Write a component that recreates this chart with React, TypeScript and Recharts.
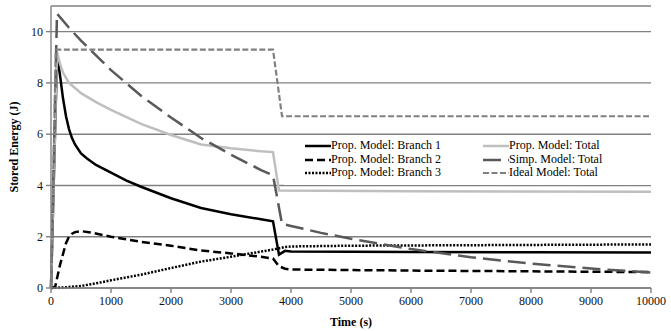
import { CartesianGrid, Legend, Line, LineChart, XAxis, YAxis } from 'recharts';

// time (s) and stored energy (J)
const branch1Time = [0, 100, 125, 150, 200, 250, 300, 350, 400, 500, 600, 750, 1000, 1250, 1500, 2000, 2500, 3000, 3500, 3700, 3800, 3900, 4000, 6000, 8000, 10000];
const branch1Energy = [0, 9.0, 8.7, 8.3, 7.4, 6.7, 6.2, 5.85, 5.6, 5.25, 5.05, 4.8, 4.5, 4.2, 3.95, 3.5, 3.12, 2.88, 2.68, 2.6, 1.3, 1.45, 1.42, 1.4, 1.39, 1.38];

const branch2Time = [0, 70, 150, 250, 300, 350, 400, 500, 700, 1000, 1500, 2000, 2500, 3000, 3500, 3700, 3800, 3900, 4000, 6000, 8000, 10000];
const branch2Energy = [0, 0.05, 0.9, 1.75, 2.0, 2.12, 2.18, 2.22, 2.15, 2.0, 1.8, 1.65, 1.46, 1.35, 1.22, 1.15, 0.85, 0.75, 0.72, 0.68, 0.65, 0.62];

const branch3Time = [0, 100, 250, 500, 750, 1000, 1250, 1500, 2000, 2500, 3000, 3500, 3700, 3800, 3900, 4000, 5000, 6000, 8000, 10000];
const branch3Energy = [0, 0.01, 0.03, 0.08, 0.18, 0.3, 0.41, 0.52, 0.78, 1.03, 1.22, 1.42, 1.5, 1.55, 1.6, 1.62, 1.65, 1.66, 1.68, 1.7];

const propTotalTime = [0, 100, 150, 200, 300, 400, 500, 750, 1000, 1500, 2000, 2500, 3000, 3500, 3700, 3800, 6000, 10000];
const propTotalEnergy = [0, 9.2, 8.75, 8.4, 8.0, 7.8, 7.6, 7.25, 6.95, 6.4, 5.97, 5.6, 5.45, 5.33, 5.3, 3.8, 3.77, 3.75];

const simpTotalTime = [0, 100, 300, 500, 1000, 1500, 2000, 2500, 3000, 3500, 3700, 3850, 4000, 4500, 5000, 6000, 7000, 8000, 9000, 10000];
const simpTotalEnergy = [0, 10.7, 10.15, 9.65, 8.5, 7.5, 6.65, 5.85, 5.2, 4.6, 4.4, 2.5, 2.42, 2.15, 1.92, 1.52, 1.2, 0.95, 0.76, 0.6];

const idealTotalTime = [0, 80, 3700, 3850, 10000];
const idealTotalEnergy = [0, 9.3, 9.3, 6.7, 6.7];

const timeTicks = [0, 1000, 2000, 3000, 4000, 5000, 6000, 7000, 8000, 9000, 10000];
const energyTicks = [0, 2, 4, 6, 8, 10];

const zip = (time: number[], energy: number[]) => time.map((t, i) => ({ t, e: energy[i] }));

const series = [
  { name: 'Prop. Model: Branch 1', data: zip(branch1Time, branch1Energy), stroke: '#000000', width: 2.5, dash: undefined },
  { name: 'Prop. Model: Branch 2', data: zip(branch2Time, branch2Energy), stroke: '#000000', width: 2.5, dash: '8 4' },
  { name: 'Prop. Model: Branch 3', data: zip(branch3Time, branch3Energy), stroke: '#000000', width: 2.5, dash: '2 1.5' },
  { name: 'Prop. Model: Total', data: zip(propTotalTime, propTotalEnergy), stroke: '#bfbfbf', width: 2.5, dash: undefined },
  { name: 'Simp. Model: Total', data: zip(simpTotalTime, simpTotalEnergy), stroke: '#595959', width: 2.5, dash: '18 7' },
  { name: 'Ideal Model: Total', data: zip(idealTotalTime, idealTotalEnergy), stroke: '#808080', width: 2.2, dash: '6 2.5' },
];

const font = "'Liberation Serif', 'Times New Roman', Times, serif";
const axisGray = '#808080';

function ChartLegend() {
  // left column: branches, right column: totals
  const order = [0, 3, 1, 4, 2, 5];
  return (
    <div
      style={{
        display: 'grid',
        gridTemplateColumns: '178px 180px',
        paddingLeft: 21,
        paddingTop: 3,
        fontFamily: font,
        fontSize: 12,
        lineHeight: '13.7px',
        color: '#000',
      }}
    >
      {order.map((i) => {
        const s = series[i];
        return (
          <div key={s.name} style={{ display: 'flex', alignItems: 'center', whiteSpace: 'nowrap' }}>
            <svg width={26} height={6} style={{ display: 'block' }}>
              <line x1={0} y1={3} x2={26} y2={3} stroke={s.stroke} strokeWidth={s.width} strokeDasharray={s.dash} />
            </svg>
            <span>{s.name}</span>
          </div>
        );
      })}
    </div>
  );
}

export default function App() {
  return (
    <div style={{ position: 'relative', width: 671, height: 331, background: '#fff' }}>
      <style>{'body{margin:0}'}</style>
      <LineChart width={671} height={331} margin={{ top: 6, right: 20, left: 0, bottom: 0 }} style={{ fontFamily: font }}>
        <CartesianGrid vertical={false} stroke={axisGray} strokeWidth={1.4} />
        <XAxis
          dataKey="t"
          type="number"
          domain={[0, 10000]}
          ticks={timeTicks}
          height={43}
          tickSize={5}
          tickMargin={3}
          axisLine={{ stroke: axisGray, strokeWidth: 1.4 }}
          tickLine={{ stroke: axisGray, strokeWidth: 1.4 }}
          tick={{ fontSize: 12, fill: '#111', fontFamily: font }}
          label={{ value: 'Time (s)', position: 'insideBottom', offset: 5, style: { fontSize: 12, fontWeight: 'bold', fill: '#000', fontFamily: font } }}
        />
        <YAxis
          type="number"
          domain={[0, 11]}
          ticks={energyTicks}
          width={51}
          tickSize={5}
          tickMargin={3}
          axisLine={{ stroke: axisGray, strokeWidth: 1.4 }}
          tickLine={{ stroke: axisGray, strokeWidth: 1.4 }}
          tick={{ fontSize: 12, fill: '#111', fontFamily: font }}
          label={{ value: 'Stored Energy (J)', angle: -90, position: 'insideLeft', offset: 14, style: { textAnchor: 'middle', fontSize: 12, fontWeight: 'bold', fill: '#000', fontFamily: font } }}
        />
        {series.map((s) => (
          <Line
            key={s.name}
            data={s.data}
            dataKey="e"
            name={s.name}
            type="linear"
            stroke={s.stroke}
            strokeWidth={s.width}
            strokeDasharray={s.dash}
            dot={false}
            activeDot={false}
            isAnimationActive={false}
          />
        ))}
        <Legend
          layout="horizontal"
          verticalAlign="middle"
          align="center"
          content={<ChartLegend />}
          wrapperStyle={{ left: 284, top: 136, width: 382, height: 49, background: '#fff' }}
        />
      </LineChart>
    </div>
  );
}
